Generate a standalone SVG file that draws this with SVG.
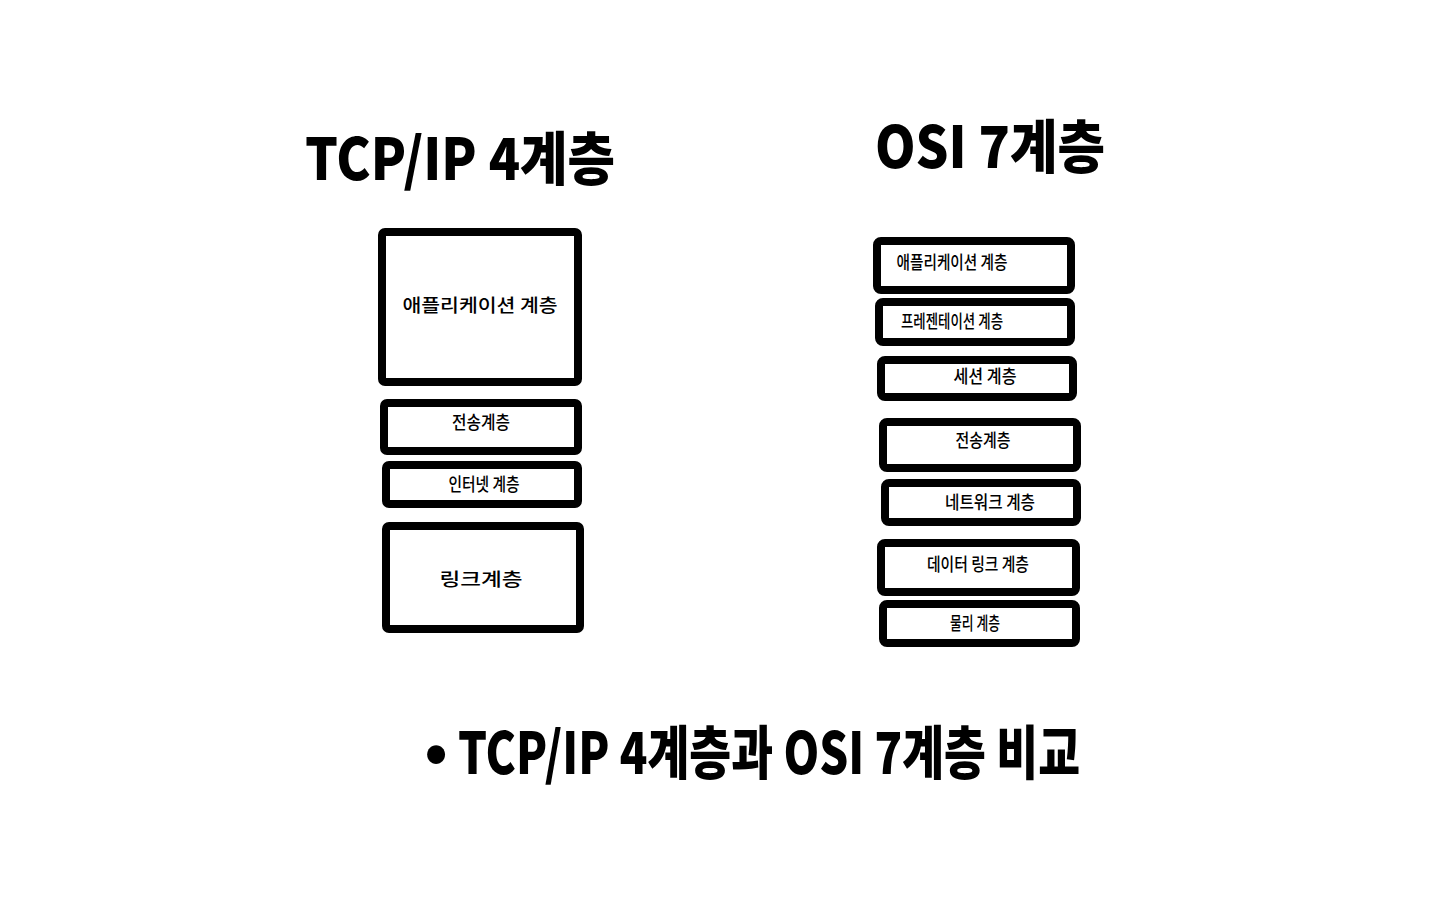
<svg xmlns="http://www.w3.org/2000/svg" width="1440" height="900" viewBox="0 0 1440 900">
<style>
.box{fill:none;stroke:#000;stroke-width:8;stroke-linejoin:round}
.t{font-family:"Noto Sans CJK KR","Noto Sans",sans-serif;fill:#000;text-anchor:middle}
.title{font-weight:900;font-size:58px}
.lbl{font-size:18px;font-weight:500}
</style>
<rect width="1440" height="900" fill="#fff"/>
<g id="title-tcpip"><text class="t title" x="460" y="180" textLength="310" lengthAdjust="spacingAndGlyphs">TCP/IP 4계층</text></g>
<g id="title-osi"><text class="t title" x="990" y="168" textLength="230" lengthAdjust="spacingAndGlyphs">OSI 7계층</text></g>

<g id="tcp-app"><rect class="box" x="382" y="232" width="196" height="150" rx="3"/><text class="t lbl" x="480" y="312" font-size="22" textLength="155" lengthAdjust="spacingAndGlyphs">애플리케이션 계층</text></g>
<g id="tcp-transport"><rect class="box" x="384" y="403" width="194" height="48" rx="3"/><text class="t lbl" x="481" y="429" textLength="58" lengthAdjust="spacingAndGlyphs">전송계층</text></g>
<g id="tcp-internet"><rect class="box" x="386" y="465" width="192" height="39" rx="3"/><text class="t lbl" x="484" y="491" textLength="71" lengthAdjust="spacingAndGlyphs">인터넷 계층</text></g>
<g id="tcp-link"><rect class="box" x="386" y="526" width="194" height="103" rx="3"/><text class="t lbl" x="481" y="586" font-size="22" textLength="83" lengthAdjust="spacingAndGlyphs">링크계층</text></g>

<g id="osi-app"><rect class="box" x="877" y="241" width="194" height="49" rx="4"/><text class="t lbl" x="952" y="269" font-size="16" textLength="111" lengthAdjust="spacingAndGlyphs">애플리케이션 계층</text></g>
<g id="osi-presentation"><rect class="box" x="879" y="302" width="192" height="40" rx="4"/><text class="t lbl" x="952" y="328" font-size="16" textLength="102" lengthAdjust="spacingAndGlyphs">프레젠테이션 계층</text></g>
<g id="osi-session"><rect class="box" x="881" y="360" width="192" height="37" rx="4"/><text class="t lbl" x="985" y="383" font-size="16" textLength="63" lengthAdjust="spacingAndGlyphs">세션 계층</text></g>
<g id="osi-transport"><rect class="box" x="883" y="422" width="194" height="46" rx="4"/><text class="t lbl" x="983" y="447" font-size="16" textLength="55" lengthAdjust="spacingAndGlyphs">전송계층</text></g>
<g id="osi-network"><rect class="box" x="885" y="483" width="192" height="39" rx="4"/><text class="t lbl" x="990" y="509" font-size="17" textLength="90" lengthAdjust="spacingAndGlyphs">네트워크 계층</text></g>
<g id="osi-datalink"><rect class="box" x="881" y="543" width="195" height="49" rx="4"/><text class="t lbl" x="978" y="571" font-size="17" textLength="102" lengthAdjust="spacingAndGlyphs">데이터 링크 계층</text></g>
<g id="osi-physical"><rect class="box" x="883" y="604" width="193" height="39" rx="4"/><text class="t lbl" x="975" y="630" font-size="16" textLength="50" lengthAdjust="spacingAndGlyphs">물리 계층</text></g>

<g id="caption">
<text class="t title" x="436" y="772" font-size="40">•</text>
<text class="t title" x="769" y="774" font-size="46" textLength="622" lengthAdjust="spacingAndGlyphs">TCP/IP 4계층과  OSI 7계층 비교</text>
</g>
<g id="connectors"></g>
</svg>
